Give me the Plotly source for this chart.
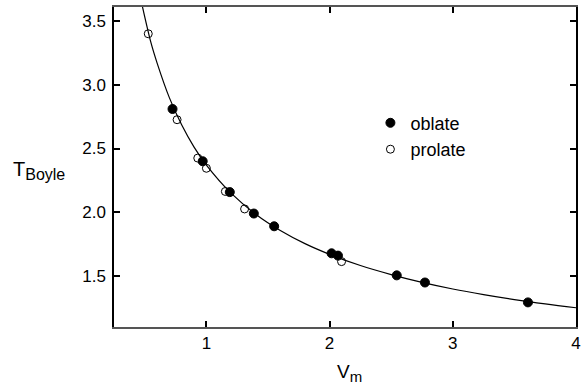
import plotly.graph_objects as go

# Data
oblate_v = [0.725, 0.97, 1.19, 1.385, 1.55, 2.016, 2.068, 2.545, 2.774, 3.61]
oblate_t = [2.81, 2.40, 2.158, 1.99, 1.89, 1.678, 1.66, 1.505, 1.449, 1.293]
prolate_v = [0.528, 0.762, 0.93, 1.0, 1.154, 1.31, 2.097]
prolate_t = [3.40, 2.726, 2.425, 2.345, 2.163, 2.026, 1.613]
curve_v = [0.47, 0.55, 0.6, 0.7, 0.8, 0.9, 1.0, 1.2, 1.4, 1.6, 1.8, 2.0, 2.25, 2.5,
           2.75, 3.0, 3.25, 3.5, 3.75, 4.0]
curve_t = [3.66, 3.33, 3.17, 2.897, 2.684, 2.511, 2.37, 2.15, 1.985, 1.857, 1.754, 1.67,
           1.582, 1.511, 1.450, 1.398, 1.354, 1.315, 1.281, 1.251]
x_ticks = [1, 2, 3, 4]
y_ticks = [1.5, 2.0, 2.5, 3.0, 3.5]

FONT = "Liberation Sans, Arial, sans-serif"

fig = go.Figure()
fig.add_trace(go.Scatter(x=curve_v, y=curve_t, mode="lines", line=dict(color="black", width=1.2, shape="spline"),
                         showlegend=False, hoverinfo="skip"))
fig.add_trace(go.Scatter(x=oblate_v, y=oblate_t, mode="markers", name="oblate",
                         marker=dict(symbol="circle", size=9, color="black", line=dict(color="black", width=1))))
fig.add_trace(go.Scatter(x=prolate_v, y=prolate_t, mode="markers", name="prolate",
                         marker=dict(symbol="circle-open", size=8, color="black", line=dict(color="black", width=1))))

fig.update_layout(
    width=586, height=387,
    margin=dict(l=114, r=9, t=5, b=60),
    paper_bgcolor="white", plot_bgcolor="white",
    font=dict(family=FONT, size=17, color="black"),
    showlegend=True,
    legend=dict(x=0.555, y=0.695, xanchor="left", yanchor="top", bgcolor="rgba(0,0,0,0)",
                font=dict(size=18), itemwidth=30, tracegroupgap=0),
    xaxis=dict(range=[0.25, 4], tickvals=x_ticks, ticktext=[str(v) for v in x_ticks],
               ticks="inside", ticklen=6, tickcolor="black", tickwidth=1.5, showline=True, linecolor="#555555",
               linewidth=2, mirror="ticks", showgrid=False, zeroline=False,
               tickfont=dict(size=17)),
    yaxis=dict(range=[1.1, 3.61], tickvals=y_ticks, ticktext=[f"{v:.1f}" for v in y_ticks],
               ticks="inside", ticklen=6, tickcolor="black", tickwidth=1.5, showline=True, linecolor="black",
               linewidth=1.5, mirror="ticks", showgrid=False, zeroline=False,
               tickfont=dict(size=17), ticklabelstandoff=3),
    annotations=[
        dict(text="<span style='font-size:20px'>T</span><sub><span style='font-size:16px'>Boyle</span></sub>",
             xref="paper", yref="paper", x=-0.222, y=0.49,
             xanchor="left", yanchor="middle", showarrow=False),
        dict(text="<span style='font-size:19px'>V</span><sub><span style='font-size:15px'>m</span></sub>",
             xref="paper", yref="paper", x=0.478, y=-0.143,
             xanchor="left", yanchor="middle", showarrow=False),
    ],
)

fig.write_html("out.html")
